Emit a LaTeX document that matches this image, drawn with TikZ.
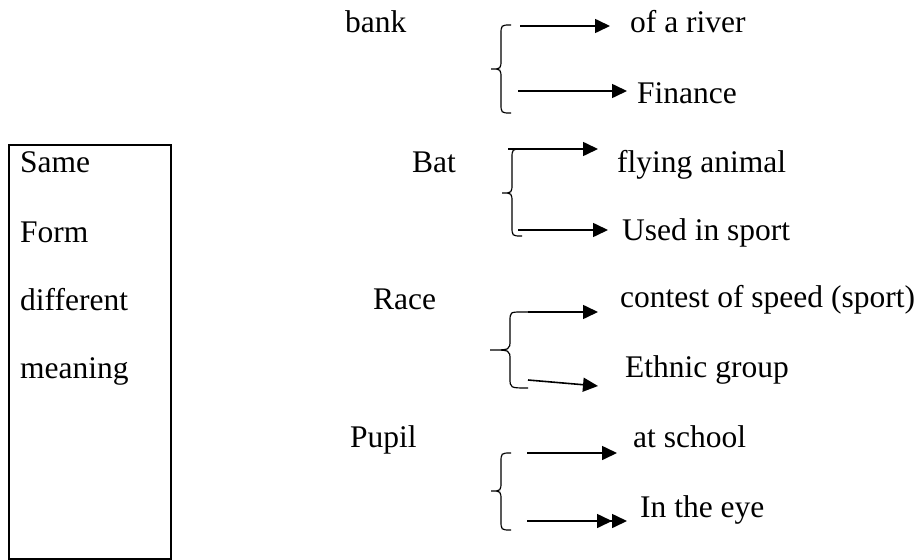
\documentclass[tikz,border=0pt]{standalone}
\usepackage{fontspec}
\setmainfont{Liberation Serif}
\usetikzlibrary{arrows.meta}
\begin{document}
\begin{tikzpicture}[x=1pt,y=-1pt,
  txt/.style={inner sep=0pt,anchor=base west,font=\fontsize{31.5}{38}\selectfont},
  arr/.style={line width=1.6pt,-{Triangle[length=15pt,width=14pt]}},
  darr/.style={line width=1.6pt,-{Triangle[length=15pt,width=14pt]Triangle[length=15pt,width=14pt]}},
  brc/.style={line width=1.2pt}]
\useasboundingbox (0,0) rectangle (920,559);

% left frame with its four words
\node[draw,line width=1.8pt,inner sep=0pt,minimum width=162pt,minimum height=414pt,anchor=north west] (frame) at (8,144) {};
\node[txt] (same) at (20,172) {Same};
\node[txt] (form) at (20,242) {Form};
\node[txt] (diff) at (20,310) {different};
\node[txt] (mean) at (20,378) {meaning};

% headwords
\node[txt] (bank) at (345,33) {bank};
\node[txt] (bat) at (412,172) {Bat};
\node[txt] (race) at (373,309) {Race};
\node[txt] (pupil) at (350,447) {Pupil};

% senses
\node[txt] (river) at (630,33) {of a river};
\node[txt] (fin) at (637,103) {Finance};
\node[txt] (fly) at (617,172) {flying animal};
\node[txt] (sport) at (622,240) {Used in sport};
\node[txt] (speed) at (620,307) {contest of speed (sport)};
\node[txt] (ethnic) at (625,377) {Ethnic group};
\node[txt] (school) at (633,447) {at school};
\node[txt] (eye) at (640,517) {In the eye};

% braces
\draw[brc] (511,25) .. controls (501,25) .. (501,35) -- (501,59) .. controls (501,69) .. (491,69)
  .. controls (501,69) .. (501,79) -- (501,103) .. controls (501,113) .. (511,113);
\draw[brc] (522,149) .. controls (512,149) .. (512,159) -- (512,183) .. controls (512,193) .. (502,193)
  .. controls (512,193) .. (512,203) -- (512,226) .. controls (512,236) .. (522,236);
\draw[brc] (528,312) -- (522,312) .. controls (510,312) .. (510,322) -- (510,340) .. controls (510,350) .. (490,350)
  .. controls (510,350) .. (510,360) -- (510,378) .. controls (510,388) .. (528,388);
\draw[brc] (511,453) .. controls (501,453) .. (501,463) -- (501,481) .. controls (501,491) .. (491,491)
  .. controls (501,491) .. (501,501) -- (501,520) .. controls (501,530) .. (511,530);

% arrow ends
\coordinate (a1s) at (520,26);  \coordinate (a1e) at (610,26);
\coordinate (a2s) at (518,91);  \coordinate (a2e) at (627,91);
\coordinate (a3s) at (508,149); \coordinate (a3e) at (598,149);
\coordinate (a4s) at (518,230); \coordinate (a4e) at (608,230);
\coordinate (a5s) at (528,312); \coordinate (a5e) at (598,312);
\coordinate (a6s) at (528,380); \coordinate (a6e) at (598,386);
\coordinate (a7s) at (527,453); \coordinate (a7e) at (617,453);
\coordinate (a8s) at (527,521); \coordinate (a8e) at (627,521);

\draw[arr] (a1s) -- (a1e);
\draw[arr] (a2s) -- (a2e);
\draw[arr] (a3s) -- (a3e);
\draw[arr] (a4s) -- (a4e);
\draw[arr] (a5s) -- (a5e);
\draw[arr] (a6s) -- (a6e);
\draw[arr] (a7s) -- (a7e);
\draw[darr] (a8s) -- (a8e);
\end{tikzpicture}
\end{document}
